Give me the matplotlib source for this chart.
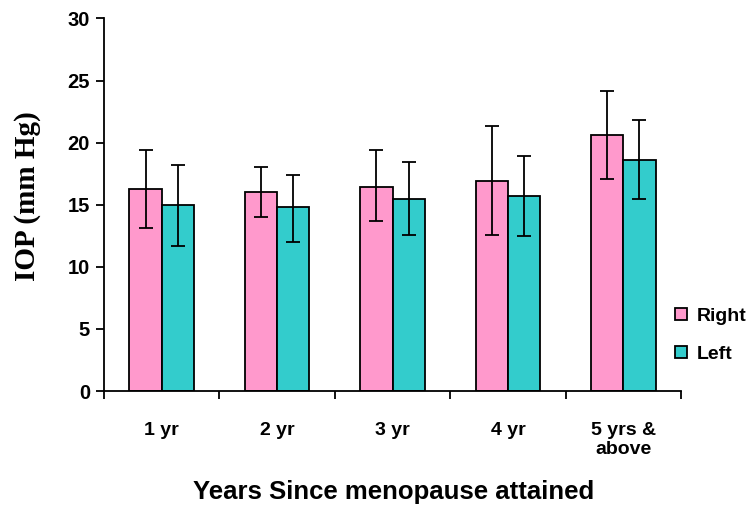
import matplotlib.pyplot as plt
import numpy as np

groups = ['1 yr', '2 yr', '3 yr', '4 yr', '5 yrs &\nabove']
right = [16.3, 16.0, 16.45, 16.95, 20.6]
right_lo = [13.1, 14.0, 13.7, 12.6, 17.1]
right_hi = [19.4, 18.0, 19.4, 21.35, 24.2]
left = [14.95, 14.8, 15.5, 15.7, 18.6]
left_lo = [11.7, 12.0, 12.6, 12.45, 15.5]
left_hi = [18.2, 17.4, 18.45, 18.95, 21.85]

pink = '#FF99CC'
teal = '#33CCCC'

fig = plt.figure(figsize=(7.51, 5.05), dpi=100)
ax = fig.add_axes([0.1385, 0.2257, 0.7683, 0.7377])

x = np.arange(len(groups))
w = 0.28
r = np.array(right); l = np.array(left)
ekw = dict(ecolor='black', elinewidth=1.3, capsize=5, capthick=1.3)
ax.bar(x - w/2, r, w, color=pink, edgecolor='black', linewidth=1.3, label='Right',
       yerr=[r - np.array(right_lo), np.array(right_hi) - r], error_kw=ekw)
ax.bar(x + w/2, l, w, color=teal, edgecolor='black', linewidth=1.3, label='Left',
       yerr=[l - np.array(left_lo), np.array(left_hi) - l], error_kw=ekw)

ax.set_xlim(-0.5, len(groups) - 0.5)
ax.set_ylim(0, 30)
ax.set_yticks(range(0, 31, 5))
ax.spines['top'].set_visible(False)
ax.spines['right'].set_visible(False)
for s in ['left', 'bottom']:
    ax.spines[s].set_linewidth(1.3)

ax.set_xticks(x)
ax.set_xticks(np.arange(-0.5, len(groups)), minor=True)
ax.set_xticklabels(groups, family='Liberation Sans', fontweight='bold', fontsize=14,
                   linespacing=1.2)
ax.tick_params(axis='x', which='major', length=0, pad=22)
ax.tick_params(axis='x', which='minor', length=6, width=1.3, direction='out')
ax.tick_params(axis='y', length=6, width=1.3, pad=4)
for t in ax.get_yticklabels():
    t.set_family('Liberation Sans')
    t.set_fontweight('bold')
    t.set_fontsize(14.5)

ax.set_ylabel('IOP (mm Hg)', family='Liberation Serif', fontweight='bold', fontsize=21,
              va='center')
ax.yaxis.set_label_coords(-0.133, 0.522)
ax.set_xlabel('Years Since menopause attained', family='Liberation Sans',
              fontweight='bold', fontsize=18.5, va='center')
ax.xaxis.set_label_coords(0.5026, -0.271)

leg = fig.legend(loc='center left', bbox_to_anchor=(0.876, 0.336), frameon=False,
                 prop={'family': 'Liberation Sans', 'weight': 'bold', 'size': 14},
                 handlelength=0.6, handleheight=0.6, handletextpad=0.5, labelspacing=1.1)

plt.savefig('out.png', dpi=100)
